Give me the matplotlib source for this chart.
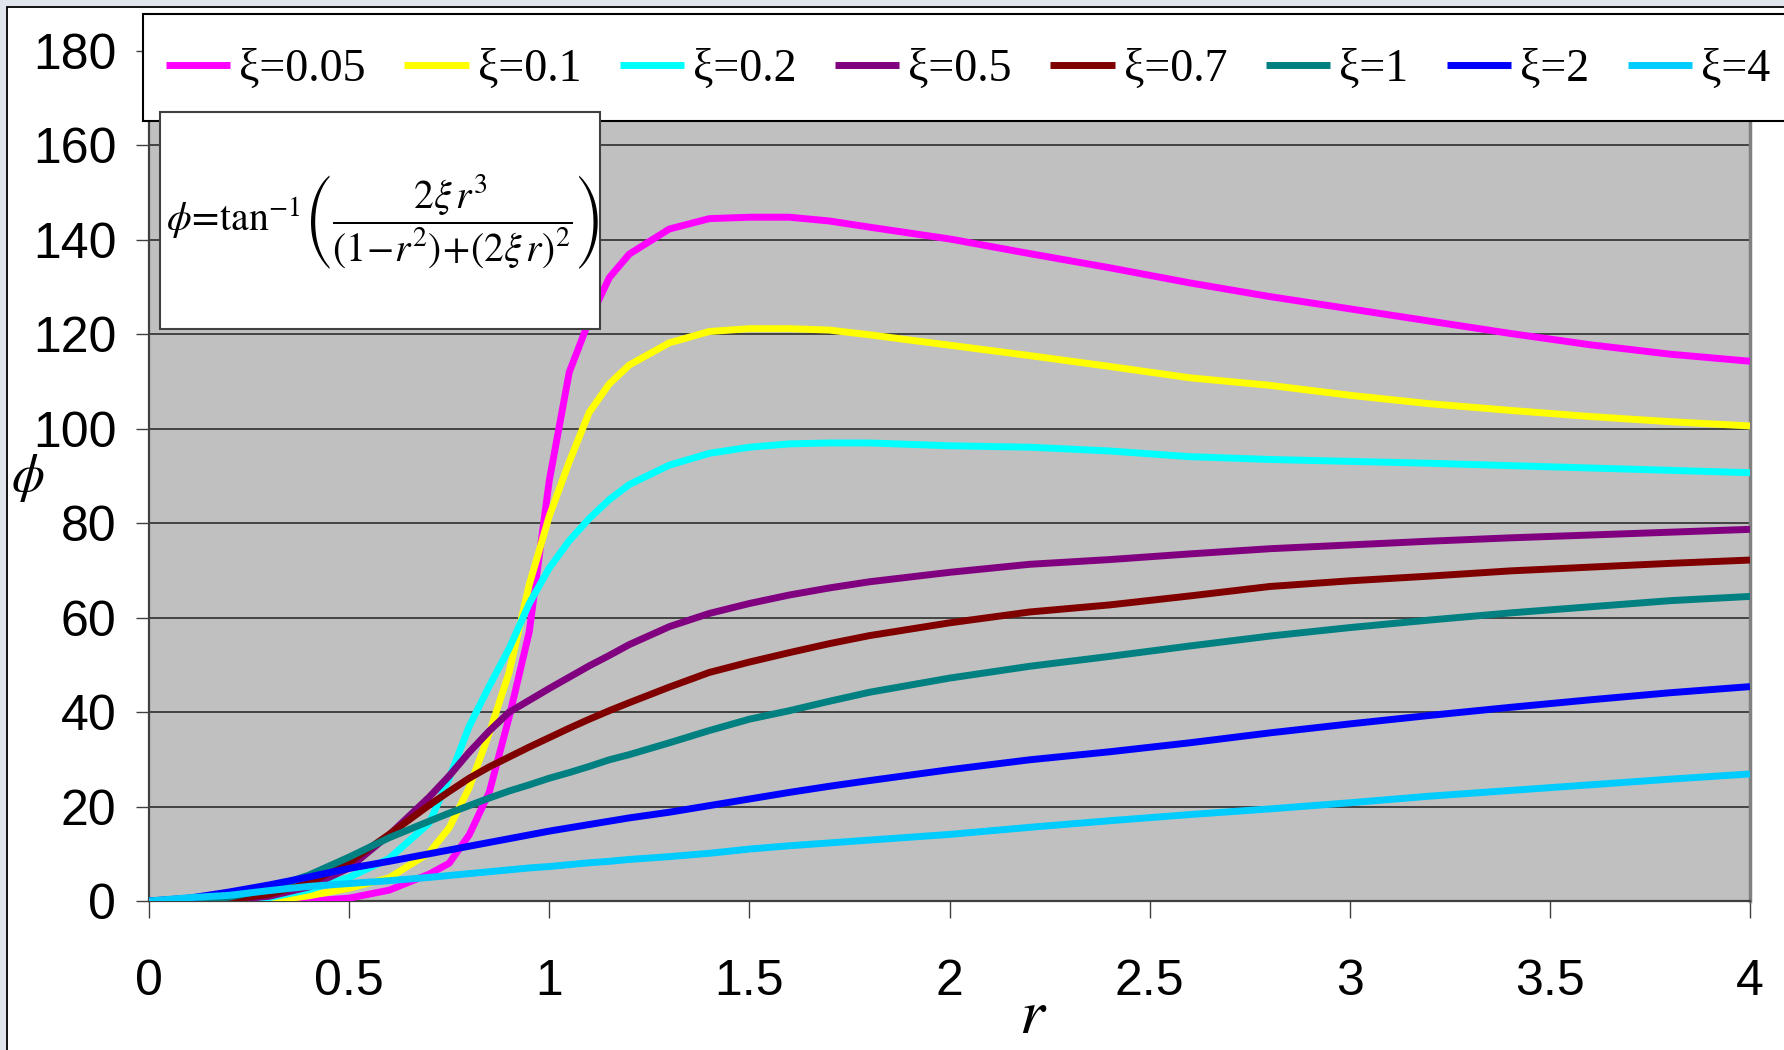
import matplotlib
matplotlib.use("Agg")
import matplotlib.pyplot as plt
from matplotlib.patches import Rectangle

plt.rcParams['mathtext.fontset'] = 'stix'

# r 值（横轴）
r = [0, 0.1, 0.2, 0.3, 0.4, 0.5, 0.6, 0.7, 0.75, 0.8, 0.85, 0.9, 0.95, 1.0, 1.05, 1.1,
     1.15, 1.2, 1.3, 1.4, 1.5, 1.6, 1.7, 1.8, 2.0, 2.2, 2.4, 2.6, 2.8, 3.0, 3.2, 3.4,
     3.6, 3.8, 4.0]

# 各阻尼比下的相位角（从图上读出来的）
phi_005 = [0, 0, 0, 0, 0, 0.6, 2.3, 5.7, 8, 14, 23, 39, 57, 89, 112, 123, 132, 137,
           142.3, 144.5, 144.8, 144.8, 144, 142.7, 140.2, 137.1, 134.1, 130.9, 128,
           125.4, 122.8, 120.2, 117.8, 115.8, 114.3]
phi_01 = [0, 0, 0, 0, 1.1, 2.7, 4.9, 10.2, 15.5, 24, 35.5, 48.5, 67, 81.5, 93, 103.5,
          109.5, 113.5, 118.2, 120.6, 121.2, 121.2, 120.9, 119.9, 117.7, 115.5, 113.2,
          110.8, 109.2, 107.1, 105.3, 103.9, 102.6, 101.5, 100.6]
phi_02 = [0, 0, 0, 0.7, 2.4, 5, 9, 16.5, 26, 37, 45.5, 53.5, 63, 70.5, 76.3, 81, 85,
          88.2, 92.3, 94.8, 96.1, 96.8, 97, 97, 96.4, 96.1, 95.3, 94.1, 93.5, 93.1,
          92.7, 92.2, 91.7, 91.2, 90.7]
phi_05 = [0, 0, 0.2, 1, 3, 7, 14, 22, 26.5, 31.5, 36, 40, 42.5, 45, 47.4, 49.8, 52,
          54.3, 58.1, 60.9, 63, 64.8, 66.3, 67.6, 69.6, 71.3, 72.3, 73.5, 74.6, 75.4,
          76.2, 76.9, 77.5, 78.1, 78.7]
phi_07 = [0, 0, 0.3, 1.4, 3.8, 8.2, 14.1, 20.3, 23.2, 26, 28.4, 30.5, 32.6, 34.6, 36.6,
          38.5, 40.3, 42, 45.3, 48.4, 50.6, 52.6, 54.5, 56.2, 58.9, 61.2, 62.7, 64.6,
          66.6, 67.8, 68.8, 69.9, 70.7, 71.5, 72.2]
phi_1 = [0, 0.2, 0.8, 2.6, 5.5, 9.3, 13.4, 16.9, 18.6, 20.2, 21.8, 23.3, 24.6, 26, 27.2,
         28.5, 29.9, 31, 33.5, 36.1, 38.5, 40.3, 42.3, 44.2, 47.2, 49.7, 51.8, 54, 56.1,
         57.9, 59.5, 61, 62.3, 63.6, 64.5]
phi_2 = [0, 0.6, 1.9, 3.4, 5.1, 6.9, 8.4, 10, 10.8, 11.6, 12.4, 13.2, 14, 14.8, 15.5,
         16.2, 16.9, 17.6, 18.8, 20.2, 21.6, 23, 24.3, 25.5, 27.8, 29.9, 31.6, 33.5,
         35.6, 37.5, 39.3, 41, 42.6, 44.1, 45.4]
phi_4 = [0, 0.7, 1.2, 2.2, 3.1, 3.7, 4.3, 5, 5.4, 5.8, 6.2, 6.6, 7, 7.3, 7.7, 8.1, 8.4,
         8.8, 9.4, 10.1, 11, 11.7, 12.3, 12.9, 14.1, 15.6, 17, 18.3, 19.5, 20.8, 22.2,
         23.4, 24.6, 25.8, 26.9]

series = [phi_005, phi_01, phi_02, phi_05, phi_07, phi_1, phi_2, phi_4]
labels = ["ξ=0.05", "ξ=0.1", "ξ=0.2", "ξ=0.5", "ξ=0.7", "ξ=1", "ξ=2", "ξ=4"]
colors = ["#FF00FF", "#FFFF00", "#00FFFF", "#800080", "#800000", "#008080",
          "#0000FF", "#00CCFF"]

x_ticks = [0, 0.5, 1, 1.5, 2, 2.5, 3, 3.5, 4]
x_ticklabels = ["0", "0.5", "1", "1.5", "2", "2.5", "3", "3.5", "4"]
y_ticks = [0, 20, 40, 60, 80, 100, 120, 140, 160, 180]

W, H = 1784, 1050
fig = plt.figure(figsize=(W / 100, H / 100), dpi=100)
fig.patch.set_facecolor("#e1e6ee")

# 白色图表区域（带黑边）
fig.patches.append(Rectangle((7 / W, -0.05), 1.2, (H - 7) / H + 0.05,
                             transform=fig.transFigure, facecolor="white",
                             edgecolor="black", lw=1.3, zorder=-1))

ax = fig.add_axes([149 / W, (H - 901) / H, 1601 / W, 850 / H])
ax.set_facecolor("#C0C0C0")
for ys, lab, c in zip(series, labels, colors):
    ax.plot(r, ys, color=c, lw=5, label=lab, solid_capstyle="butt", zorder=3)

ax.set_xlim(0, 4)
ax.set_ylim(0, 180)
ax.set_xticks(x_ticks)
ax.set_xticklabels(x_ticklabels)
ax.set_yticks(y_ticks)
ax.grid(axis="y", color="#202020", lw=1.1, zorder=1)
ax.set_axisbelow(True)

for t in ax.get_xticklabels() + ax.get_yticklabels():
    t.set_fontfamily(["Liberation Sans", "DejaVu Sans"])
    t.set_fontsize(36)
ax.tick_params(axis="x", direction="out", length=12, width=1, color="#404040", pad=30)
ax.tick_params(axis="y", direction="out", length=9.5, width=1, color="#404040", pad=14)

for side in ["left", "bottom"]:
    ax.spines[side].set_color("#404040")
    ax.spines[side].set_linewidth(1.6)
for side in ["right", "top"]:
    ax.spines[side].set_color("#808080")
    ax.spines[side].set_linewidth(2.5)

ax.set_ylabel(r"$\phi$", rotation=0, fontsize=38, va="center", ha="center")
ax.yaxis.set_label_coords(-0.0756, 0.4976)
ax.set_xlabel(r"$r$", fontsize=46, va="center")
ax.xaxis.set_label_coords(0.552, -0.134)

# 图例框
fig.patches.append(Rectangle((143 / W, (H - 121) / H), 1.0, 107 / H,
                             transform=fig.transFigure, facecolor="white",
                             edgecolor="black", lw=1.5, zorder=4))
handles, labs = ax.get_legend_handles_labels()
fig.legend(handles, labs, ncol=8, loc="center left",
           bbox_to_anchor=(166 / W, 1 - 70 / H), frameon=False,
           handlelength=1.4, handletextpad=0.2, columnspacing=0.84,
           borderpad=0, borderaxespad=0,
           prop=dict(family=["Liberation Serif", "DejaVu Serif"], size=33))

# 公式框
fig.patches.append(Rectangle((160 / W, (H - 329) / H), 440 / W, 217 / H,
                             transform=fig.transFigure, facecolor="white",
                             edgecolor="#404040", lw=1.5, zorder=6))
fig.text(166 / W, 1 - 222 / H,
         r"$\phi\!=\!\tan^{-1}\!\left(\dfrac{2\xi\, r^3}{\left(1\!-\!r^2\right)\!+\!\left(2\xi\, r\right)^2}\right)$",
         fontsize=28.5, ha="left", va="center", zorder=7)

fig.savefig("out.png", dpi=100, facecolor=fig.get_facecolor())
